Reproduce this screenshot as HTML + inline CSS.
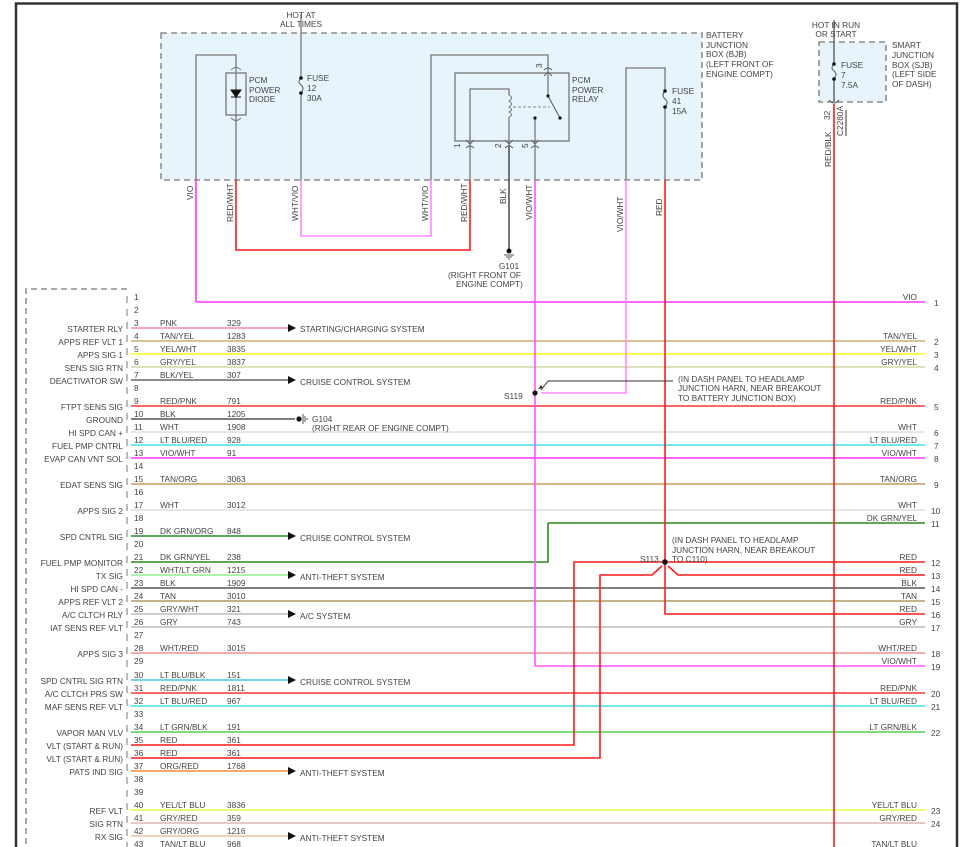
<!DOCTYPE html>
<html><head><meta charset="utf-8"><style>
html,body{margin:0;padding:0;background:#fff;width:966px;height:847px;overflow:hidden}
svg{display:block}
text{font-family:"Liberation Sans",sans-serif;font-size:8.3px;fill:#444}
.r{text-anchor:end}
.m{text-anchor:middle}
</style></head><body>
<svg width="966" height="847" viewBox="0 0 966 847" xmlns="http://www.w3.org/2000/svg">
<!-- frame -->
<path d="M16 848 V3.5 H957 V848" fill="none" stroke="#333" stroke-width="2.5"/>

<!-- BJB box -->
<rect x="161" y="33" width="541" height="147" fill="#e8f4fb" stroke="#777" stroke-width="1.3" stroke-dasharray="6,4"/>
<!-- SJB box -->
<rect x="819" y="42" width="67" height="60" fill="#e8f4fb" stroke="#777" stroke-width="1.3" stroke-dasharray="6,4"/>
<!-- left connector dashed -->
<path d="M127 289 H26 V848" fill="none" stroke="#777" stroke-width="1.3" stroke-dasharray="6,4"/>

<!-- horizontal wires -->
<g stroke-width="1.6" fill="none">
<path d="M196 302 H925" stroke="#ff33ff"/>
<path d="M131 328 H288" stroke="#f58ca0"/>
<path d="M131 341 H925" stroke="#c8ae6e"/>
<path d="M131 354 H925" stroke="#ffff10"/>
<path d="M131 367 H925" stroke="#d6d6a0"/>
<path d="M131 380 H288" stroke="#666"/>
<path d="M131 406 H925" stroke="#ff3333"/>
<path d="M131 419 H295" stroke="#555"/>
<path d="M131 432 H925" stroke="#ddd"/>
<path d="M131 445 H925" stroke="#40e0f0"/>
<path d="M131 458 H925" stroke="#ff33ff"/>
<path d="M131 484 H925" stroke="#c89a5a"/>
<path d="M131 510 H925" stroke="#ddd"/>
<path d="M548 523 H925" stroke="#2a8a1a"/>
<path d="M131 536 H288" stroke="#2a8a2a"/>
<path d="M131 562 H548 V523" stroke="#2a8a1a"/>
<path d="M131 575 H288" stroke="#90f090"/>
<path d="M131 588 H925" stroke="#555"/>
<path d="M131 601 H925" stroke="#b09a60"/>
<path d="M131 614 H288" stroke="#bbb"/>
<path d="M131 627 H925" stroke="#bbb"/>
<path d="M131 653 H925" stroke="#f29090"/>
<path d="M535 666 H925" stroke="#ff55ff"/>
<path d="M131 680 H288" stroke="#40c8e0"/>
<path d="M131 693 H925" stroke="#ff3333"/>
<path d="M131 706 H925" stroke="#40e0f0"/>
<path d="M131 732 H925" stroke="#50d050"/>
<path d="M131 745 H574 V562 H925" stroke="#ff1a1a"/>
<path d="M131 758 H600 V575 H652 L662 566 M668 566 L678 575 H925" stroke="#ff1a1a"/>
<path d="M665 562 V614 H925" stroke="#ff1a1a"/>
<path d="M131 771 H288" stroke="#ff8a30"/>
<path d="M131 810 H925" stroke="#e0ff40"/>
<path d="M131 823 H925" stroke="#e4b4b4"/>
<path d="M131 836 H288" stroke="#e8c0a0"/>
<path d="M131 849 H925" stroke="#90d0d0"/>
</g>

<!-- top verticals -->
<g fill="none" stroke-width="1.6">
<path d="M196 180 V302" stroke="#ff33ff"/>
<path d="M196 180 V55 H236 V73" stroke="#777" stroke-width="1.3"/>
<path d="M236 115 V180" stroke="#777" stroke-width="1.3"/>
<path d="M236 180 V250 H470 V180" stroke="#ff1a1a"/>
<path d="M301 14 V180" stroke="#777" stroke-width="1.3" />
<path d="M301 180 V236 H431 V180" stroke="#ff88ff"/>
<path d="M431 180 V55 H548 V72" stroke="#777" stroke-width="1.3"/>
<path d="M470 180 V145" stroke="#777" stroke-width="1.3"/>
<path d="M509 145 V250" stroke="#555"/>
<path d="M535 145 V180" stroke="#777" stroke-width="1.3"/>
<path d="M535 180 V666" stroke="#ff55ff"/>
<path d="M626 180 V68 H665 V180" stroke="#777" stroke-width="1.3"/>
<path d="M626 180 V393 H541" stroke="#ff88ff"/>
<path d="M665 180 V562" stroke="#ff1a1a"/>
<path d="M834 20 V102" stroke="#555" stroke-width="1.3"/>
<path d="M834 104 V847" stroke="#ff1a1a"/>
</g>
<!-- fuse covers -->
<rect x="297" y="78" width="8" height="15" fill="#e8f4fb"/>
<path d="M301 78 q-4 4 0 7 q4 3 0 8" fill="none" stroke="#555"/>
<circle cx="301" cy="78" r="1.8" fill="#111"/><circle cx="301" cy="93" r="1.8" fill="#111"/>
<rect x="661" y="91" width="8" height="16" fill="#e8f4fb"/>
<path d="M665 91 q-4 4 0 8 q4 3 0 8" fill="none" stroke="#555"/>
<circle cx="665" cy="91" r="1.8" fill="#111"/><circle cx="665" cy="107" r="1.8" fill="#111"/>
<rect x="830" y="64" width="8" height="15" fill="#e8f4fb"/>
<path d="M834 64 q-4 4 0 7 q4 3 0 8" fill="none" stroke="#555"/>
<circle cx="834" cy="64" r="1.8" fill="#111"/><circle cx="834" cy="79" r="1.8" fill="#111"/>
<path d="M829 100 q5 6 10 0" fill="none" stroke="#555"/>
<path d="M846 110 V136" stroke="#333"/>

<!-- diode -->
<rect x="226" y="73" width="20" height="42" fill="none" stroke="#777" stroke-width="1.3"/>
<path d="M236 73 V115" stroke="#777" stroke-width="1.2"/>
<path d="M231 90 H241 L236 97 Z M231 97 H241" fill="#111" stroke="#111"/>
<path d="M231 70 q5 -5 10 0 M231 118 q5 5 10 0" fill="none" stroke="#777"/>

<!-- relay -->
<rect x="455" y="73" width="114" height="68" fill="none" stroke="#777" stroke-width="1.3"/>
<path d="M470 145 V89 H509 V145" fill="none" stroke="#777" stroke-width="1.3"/>
<rect x="506" y="95" width="6" height="22" fill="#e8f4fb"/>
<path d="M509 95 q5 3 0 6 q5 3 0 6 q5 3 0 5 q5 3 0 5" fill="none" stroke="#777"/>
<path d="M513 107 H550" stroke="#888" stroke-dasharray="3,2"/>
<path d="M548 72 V96 L560 118" fill="none" stroke="#555"/>
<circle cx="548" cy="96" r="1.6" fill="#111"/><circle cx="560" cy="118" r="1.6" fill="#111"/>
<path d="M535 145 V118" stroke="#555"/><circle cx="535" cy="118" r="1.6" fill="#111"/>
<path d="M466 140 l4 4 l4 -4 M505 140 l4 4 l4 -4 M531 140 l4 4 l4 -4 M466 148 q4 -4 8 0 M505 148 q4 -4 8 0 M531 148 q4 -4 8 0 M544 70 q4 -4 8 0 M544 76 l4 -4 l4 4" fill="none" stroke="#666"/>
<text x="460" y="148" transform="rotate(-90 460 148)" font-size="7">1</text>
<text x="501" y="148" transform="rotate(-90 501 148)" font-size="7">2</text>
<text x="528" y="148" transform="rotate(-90 528 148)" font-size="7">5</text>
<text x="542" y="68" transform="rotate(-90 542 68)" font-size="7">3</text>

<!-- ground G101 -->
<circle cx="509" cy="251" r="2.5" fill="#111"/>
<path d="M504 255 H514 M506 257 H512 M508 259 H510" stroke="#555"/>
<!-- splices -->
<circle cx="535" cy="393" r="2.6" fill="#111"/>
<path d="M541 390 L548 381 H673" fill="none" stroke="#333"/>
<path d="M538 389 l3 -4 l2 3 z" fill="#333"/>
<circle cx="665" cy="562" r="2.8" fill="#111"/>
<!-- G104 -->
<circle cx="299" cy="419" r="2.6" fill="#111"/>
<path d="M303 414 V424 M305 416 V422 M307 418 V420" stroke="#555"/>

<!-- arrows -->
<g fill="#111">
<path d="M288 324 L296 328 L288 332Z"/><path d="M288 376 L296 380 L288 384Z"/>
<path d="M288 532 L296 536 L288 540Z"/><path d="M288 571 L296 575 L288 579Z"/>
<path d="M288 610 L296 614 L288 618Z"/><path d="M288 676 L296 680 L288 684Z"/>
<path d="M288 767 L296 771 L288 775Z"/><path d="M288 832 L296 836 L288 840Z"/>
</g>

<!-- top texts -->
<text class="m" x="301" y="18">HOT AT</text><text class="m" x="301" y="27">ALL TIMES</text>
<text x="249" y="83">PCM</text><text x="249" y="93">POWER</text><text x="249" y="102">DIODE</text>
<text x="307" y="81">FUSE</text><text x="307" y="91">12</text><text x="307" y="101">30A</text>
<text x="572" y="83">PCM</text><text x="572" y="93">POWER</text><text x="572" y="102">RELAY</text>
<text x="672" y="94">FUSE</text><text x="672" y="104">41</text><text x="672" y="114">15A</text>
<text x="706" y="38">BATTERY</text><text x="706" y="48">JUNCTION</text><text x="706" y="57">BOX (BJB)</text><text x="706" y="67">(LEFT FRONT OF</text><text x="706" y="77">ENGINE COMPT)</text>
<text class="m" x="836" y="28">HOT IN RUN</text><text class="m" x="836" y="37">OR START</text>
<text x="841" y="68">FUSE</text><text x="841" y="78">7</text><text x="841" y="88">7.5A</text>
<text x="892" y="48">SMART</text><text x="892" y="58">JUNCTION</text><text x="892" y="68">BOX (SJB)</text><text x="892" y="77">(LEFT SIDE</text><text x="892" y="87">OF DASH)</text>
<g font-size="8">
<text transform="rotate(-90 193 200)" x="193" y="200">VIO</text>
<text transform="rotate(-90 233 222)" x="233" y="222">RED/WHT</text>
<text transform="rotate(-90 298 221)" x="298" y="221">WHT/VIO</text>
<text transform="rotate(-90 428 221)" x="428" y="221">WHT/VIO</text>
<text transform="rotate(-90 467 222)" x="467" y="222">RED/WHT</text>
<text transform="rotate(-90 506 204)" x="506" y="204">BLK</text>
<text transform="rotate(-90 532 220)" x="532" y="220">VIO/WHT</text>
<text transform="rotate(-90 623 232)" x="623" y="232">VIO/WHT</text>
<text transform="rotate(-90 662 216)" x="662" y="216">RED</text>
<text transform="rotate(-90 831 167)" x="831" y="167">RED/BLK</text>
<text transform="rotate(-90 830 120)" x="830" y="120">32</text>
<text transform="rotate(-90 843 136)" x="843" y="136">C2280A</text>
</g>
<text class="m" x="509" y="269">G101</text><text x="448" y="278">(RIGHT FRONT OF</text><text x="456" y="287">ENGINE COMPT)</text>
<text x="504" y="399">S119</text>
<text x="678" y="382">(IN DASH PANEL TO HEADLAMP</text><text x="678" y="391">JUNCTION HARN, NEAR BREAKOUT</text><text x="678" y="401">TO BATTERY JUNCTION BOX)</text>
<text x="640" y="562">S113</text>
<text x="672" y="543">(IN DASH PANEL TO HEADLAMP</text><text x="672" y="553">JUNCTION HARN, NEAR BREAKOUT</text><text x="672" y="562">TO C110)</text>
<text x="312" y="422">G104</text><text x="312" y="431">(RIGHT REAR OF ENGINE COMPT)</text>

<!-- system labels -->
<text x="300" y="332">STARTING/CHARGING SYSTEM</text>
<text x="300" y="385">CRUISE CONTROL SYSTEM</text>
<text x="300" y="541">CRUISE CONTROL SYSTEM</text>
<text x="300" y="580">ANTI-THEFT SYSTEM</text>
<text x="300" y="619">A/C SYSTEM</text>
<text x="300" y="685">CRUISE CONTROL SYSTEM</text>
<text x="300" y="776">ANTI-THEFT SYSTEM</text>
<text x="300" y="841">ANTI-THEFT SYSTEM</text>

<!-- pin brackets & numbers -->
<g id="pins" stroke="#777" fill="none" stroke-width="1">
<path d="M127 296v7m0 6v7m0 6v7m0 6v7m0 6v7m0 6v7m0 6v7m0 6v7m0 6v7m0 6v7m0 6v7m0 6v7m0 6v7m0 6v7m0 6v7m0 6v7m0 6v7m0 6v7m0 6v7m0 6v7m0 6v7m0 6v7m0 6v7m0 6v7m0 6v7m0 6v7m0 6v7m0 6v7m0 6v7m0 6v7m0 6v7m0 6v7m0 6v7m0 6v7m0 6v7m0 6v7m0 6v7m0 6v7m0 6v7m0 6v7m0 6v7m0 6v7m0 6v7"/>
</g>
<g font-size="8">
<text x="134" y="300">1</text><text x="134" y="313">2</text><text x="134" y="326">3</text><text x="134" y="339">4</text><text x="134" y="352">5</text><text x="134" y="365">6</text><text x="134" y="378">7</text><text x="134" y="391">8</text><text x="134" y="404">9</text><text x="134" y="417">10</text><text x="134" y="430">11</text><text x="134" y="443">12</text><text x="134" y="456">13</text><text x="134" y="469">14</text><text x="134" y="482">15</text><text x="134" y="495">16</text><text x="134" y="508">17</text><text x="134" y="521">18</text><text x="134" y="534">19</text><text x="134" y="547">20</text><text x="134" y="560">21</text><text x="134" y="573">22</text><text x="134" y="586">23</text><text x="134" y="599">24</text><text x="134" y="612">25</text><text x="134" y="625">26</text><text x="134" y="638">27</text><text x="134" y="651">28</text><text x="134" y="664">29</text><text x="134" y="678">30</text><text x="134" y="691">31</text><text x="134" y="704">32</text><text x="134" y="717">33</text><text x="134" y="730">34</text><text x="134" y="743">35</text><text x="134" y="756">36</text><text x="134" y="769">37</text><text x="134" y="782">38</text><text x="134" y="795">39</text><text x="134" y="808">40</text><text x="134" y="821">41</text><text x="134" y="834">42</text><text x="134" y="847">43</text>
</g>

<!-- left labels -->
<g class="r">
<text class="r" x="123" y="332">STARTER RLY</text>
<text class="r" x="123" y="345">APPS REF VLT 1</text>
<text class="r" x="123" y="358">APPS SIG 1</text>
<text class="r" x="123" y="371">SENS SIG RTN</text>
<text class="r" x="123" y="384">DEACTIVATOR SW</text>
<text class="r" x="123" y="410">FTPT SENS SIG</text>
<text class="r" x="123" y="423">GROUND</text>
<text class="r" x="123" y="436">HI SPD CAN +</text>
<text class="r" x="123" y="449">FUEL PMP CNTRL</text>
<text class="r" x="123" y="462">EVAP CAN VNT SOL</text>
<text class="r" x="123" y="488">EDAT SENS SIG</text>
<text class="r" x="123" y="514">APPS SIG 2</text>
<text class="r" x="123" y="540">SPD CNTRL SIG</text>
<text class="r" x="123" y="566">FUEL PMP MONITOR</text>
<text class="r" x="123" y="579">TX SIG</text>
<text class="r" x="123" y="592">HI SPD CAN -</text>
<text class="r" x="123" y="605">APPS REF VLT 2</text>
<text class="r" x="123" y="618">A/C CLTCH RLY</text>
<text class="r" x="123" y="631">IAT SENS REF VLT</text>
<text class="r" x="123" y="657">APPS SIG 3</text>
<text class="r" x="123" y="684">SPD CNTRL SIG RTN</text>
<text class="r" x="123" y="697">A/C CLTCH PRS SW</text>
<text class="r" x="123" y="710">MAF SENS REF VLT</text>
<text class="r" x="123" y="736">VAPOR MAN VLV</text>
<text class="r" x="123" y="749">VLT (START &amp; RUN)</text>
<text class="r" x="123" y="762">VLT (START &amp; RUN)</text>
<text class="r" x="123" y="775">PATS IND SIG</text>
<text class="r" x="123" y="814">REF VLT</text>
<text class="r" x="123" y="827">SIG RTN</text>
<text class="r" x="123" y="840">RX SIG</text>
</g>

<!-- color / circuit labels -->
<g font-size="8">
<text x="160" y="326">PNK</text><text x="227" y="326">329</text>
<text x="160" y="339">TAN/YEL</text><text x="227" y="339">1283</text>
<text x="160" y="352">YEL/WHT</text><text x="227" y="352">3835</text>
<text x="160" y="365">GRY/YEL</text><text x="227" y="365">3837</text>
<text x="160" y="378">BLK/YEL</text><text x="227" y="378">307</text>
<text x="160" y="404">RED/PNK</text><text x="227" y="404">791</text>
<text x="160" y="417">BLK</text><text x="227" y="417">1205</text>
<text x="160" y="430">WHT</text><text x="227" y="430">1908</text>
<text x="160" y="443">LT BLU/RED</text><text x="227" y="443">928</text>
<text x="160" y="456">VIO/WHT</text><text x="227" y="456">91</text>
<text x="160" y="482">TAN/ORG</text><text x="227" y="482">3063</text>
<text x="160" y="508">WHT</text><text x="227" y="508">3012</text>
<text x="160" y="534">DK GRN/ORG</text><text x="227" y="534">848</text>
<text x="160" y="560">DK GRN/YEL</text><text x="227" y="560">238</text>
<text x="160" y="573">WHT/LT GRN</text><text x="227" y="573">1215</text>
<text x="160" y="586">BLK</text><text x="227" y="586">1909</text>
<text x="160" y="599">TAN</text><text x="227" y="599">3010</text>
<text x="160" y="612">GRY/WHT</text><text x="227" y="612">321</text>
<text x="160" y="625">GRY</text><text x="227" y="625">743</text>
<text x="160" y="651">WHT/RED</text><text x="227" y="651">3015</text>
<text x="160" y="678">LT BLU/BLK</text><text x="227" y="678">151</text>
<text x="160" y="691">RED/PNK</text><text x="227" y="691">1811</text>
<text x="160" y="704">LT BLU/RED</text><text x="227" y="704">967</text>
<text x="160" y="730">LT GRN/BLK</text><text x="227" y="730">191</text>
<text x="160" y="743">RED</text><text x="227" y="743">361</text>
<text x="160" y="756">RED</text><text x="227" y="756">361</text>
<text x="160" y="769">ORG/RED</text><text x="227" y="769">1768</text>
<text x="160" y="808">YEL/LT BLU</text><text x="227" y="808">3836</text>
<text x="160" y="821">GRY/RED</text><text x="227" y="821">359</text>
<text x="160" y="834">GRY/ORG</text><text x="227" y="834">1216</text>
<text x="160" y="847">TAN/LT BLU</text><text x="227" y="847">968</text>
</g>

<!-- right labels -->
<g font-size="8">
<text class="r" x="917" y="300">VIO</text><text x="934" y="306">1</text>
<text class="r" x="917" y="339">TAN/YEL</text><text x="934" y="345">2</text>
<text class="r" x="917" y="352">YEL/WHT</text><text x="934" y="358">3</text>
<text class="r" x="917" y="365">GRY/YEL</text><text x="934" y="371">4</text>
<text class="r" x="917" y="404">RED/PNK</text><text x="934" y="410">5</text>
<text class="r" x="917" y="430">WHT</text><text x="934" y="436">6</text>
<text class="r" x="917" y="443">LT BLU/RED</text><text x="934" y="449">7</text>
<text class="r" x="917" y="456">VIO/WHT</text><text x="934" y="462">8</text>
<text class="r" x="917" y="482">TAN/ORG</text><text x="934" y="488">9</text>
<text class="r" x="917" y="508">WHT</text><text x="931" y="514">10</text>
<text class="r" x="917" y="521">DK GRN/YEL</text><text x="931" y="527">11</text>
<text class="r" x="917" y="560">RED</text><text x="931" y="566">12</text>
<text class="r" x="917" y="573">RED</text><text x="931" y="579">13</text>
<text class="r" x="917" y="586">BLK</text><text x="931" y="592">14</text>
<text class="r" x="917" y="599">TAN</text><text x="931" y="605">15</text>
<text class="r" x="917" y="612">RED</text><text x="931" y="618">16</text>
<text class="r" x="917" y="625">GRY</text><text x="931" y="631">17</text>
<text class="r" x="917" y="651">WHT/RED</text><text x="931" y="657">18</text>
<text class="r" x="917" y="664">VIO/WHT</text><text x="931" y="670">19</text>
<text class="r" x="917" y="691">RED/PNK</text><text x="931" y="697">20</text>
<text class="r" x="917" y="704">LT BLU/RED</text><text x="931" y="710">21</text>
<text class="r" x="917" y="730">LT GRN/BLK</text><text x="931" y="736">22</text>
<text class="r" x="917" y="808">YEL/LT BLU</text><text x="931" y="814">23</text>
<text class="r" x="917" y="821">GRY/RED</text><text x="931" y="827">24</text>
<text class="r" x="917" y="847">TAN/LT BLU</text>
</g>
</svg>
</body></html>
